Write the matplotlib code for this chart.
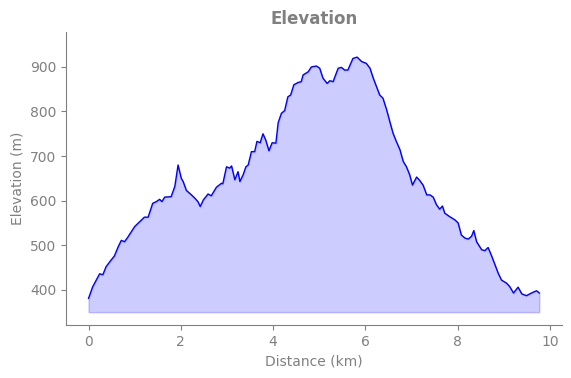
import numpy as np
import matplotlib
matplotlib.use("Agg")
import matplotlib.pyplot as plt

# distance (km) and elevation (m)
dist = [0.0, 0.09, 0.24, 0.31, 0.38, 0.49, 0.56, 0.64, 0.71, 0.78, 0.85, 1.0,
        1.11, 1.21, 1.29, 1.32, 1.39, 1.47, 1.54, 1.59, 1.65, 1.79, 1.87, 1.94,
        2.01, 2.05, 2.12, 2.23, 2.30, 2.37, 2.42, 2.49, 2.59, 2.66, 2.77, 2.88,
        2.91, 2.99, 3.06, 3.10, 3.17, 3.24, 3.28, 3.35, 3.41, 3.46, 3.53, 3.60,
        3.65, 3.72, 3.78, 3.84, 3.91, 3.98, 4.06, 4.11, 4.18, 4.25, 4.32, 4.38,
        4.45, 4.54, 4.61, 4.65, 4.76, 4.83, 4.94, 5.01, 5.08, 5.17, 5.23, 5.30,
        5.41, 5.48, 5.55, 5.62, 5.73, 5.82, 5.92, 6.02, 6.10, 6.17, 6.24, 6.31,
        6.38, 6.46, 6.53, 6.60, 6.67, 6.75, 6.82, 6.89, 6.96, 7.02, 7.11, 7.18,
        7.25, 7.33, 7.40, 7.47, 7.54, 7.61, 7.67, 7.72, 7.83, 7.94, 8.01, 8.08,
        8.16, 8.23, 8.30, 8.35, 8.41, 8.52, 8.59, 8.66, 8.74, 8.81, 8.88, 8.95,
        9.06, 9.13, 9.21, 9.31, 9.39, 9.49, 9.60, 9.71, 9.77]
elev = [381, 407, 436, 434, 452, 467, 476, 496, 511, 508, 518, 542,
        553, 563, 563, 572, 594, 598, 603, 598, 608, 609, 632, 680,
        650, 643, 623, 613, 606, 598, 587, 602, 615, 611, 630, 639,
        638, 676, 673, 678, 647, 665, 643, 658, 676, 680, 710, 710,
        733, 730, 750, 736, 712, 730, 729, 775, 796, 802, 833, 837,
        860, 865, 867, 882, 889, 900, 902, 897, 875, 863, 869, 867,
        897, 899, 893, 893, 919, 922, 912, 908, 897, 875, 856, 837,
        830, 804, 777, 751, 733, 714, 688, 676, 658, 635, 653, 645,
        635, 613, 613, 608, 591, 581, 588, 572, 564, 557, 550, 523,
        516, 514, 520, 533, 508, 490, 488, 495, 475, 456, 437, 422,
        415, 407, 393, 406, 391, 387, 393, 398, 393]
base = 350

grey = "#808080"
fig = plt.figure(figsize=(5.71, 3.78), dpi=100)
ax = fig.add_axes([0.1156, 0.140, 0.8684, 0.775])

ax.fill_between(dist, elev, base, color="blue", alpha=0.2)
ax.plot(dist, elev, color="blue", linewidth=1)

ax.set_ylim(321, 978)
ax.set_yticks([400, 500, 600, 700, 800, 900])
ax.set_xticks([0, 2, 4, 6, 8, 10])

ax.set_title("Elevation", color=grey, fontweight="bold", fontsize=12)
ax.set_xlabel("Distance (km)", color=grey)
ax.set_ylabel("Elevation (m)", color=grey)
ax.tick_params(colors=grey, labelcolor=grey)
for s in ["top", "right"]:
    ax.spines[s].set_visible(False)
for s in ["left", "bottom"]:
    ax.spines[s].set_color(grey)

fig.savefig("out.png", dpi=100)
